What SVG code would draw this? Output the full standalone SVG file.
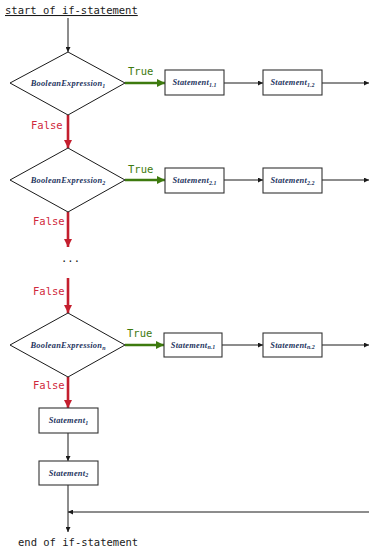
<svg xmlns="http://www.w3.org/2000/svg" width="369" height="548" viewBox="0 0 369 548">
<style>
.mono{font-family:"DejaVu Sans Mono","Liberation Mono",monospace;font-size:10.5px}
.lbl{fill:#1a1a1a}
.f{fill:#d0283c}
.t{fill:#3d7a0e}
.m{font-family:"Liberation Serif","DejaVu Serif",serif;font-style:italic;font-weight:bold;font-size:8.4px;letter-spacing:0.25px;fill:#1e3560}
.sub{font-size:6px;letter-spacing:0}
.box{fill:#fff;stroke:#333;stroke-width:1.1}
.dia{fill:#fff;stroke:#1a1a1a;stroke-width:1}
.k{stroke:#1a1a1a;stroke-width:1;fill:none}
.r{stroke:#c41e2e;stroke-width:2.6;fill:none}
.g{stroke:#3d7a0e;stroke-width:2.6;fill:none}
</style>
<defs>
<marker id="ak" viewBox="0 0 10 10" refX="10" refY="5" markerWidth="6" markerHeight="5" markerUnits="userSpaceOnUse" orient="auto"><path d="M0,0 L10,5 L0,10 z" fill="#1a1a1a"/></marker>
<marker id="ar" viewBox="0 0 10 10" refX="10" refY="5" markerWidth="9" markerHeight="8" markerUnits="userSpaceOnUse" orient="auto"><path d="M0,0 L10,5 L0,10 z" fill="#c41e2e"/></marker>
<marker id="ag" viewBox="0 0 10 10" refX="10" refY="5" markerWidth="9" markerHeight="8" markerUnits="userSpaceOnUse" orient="auto"><path d="M0,0 L10,5 L0,10 z" fill="#3d7a0e"/></marker>
</defs>
<rect width="369" height="548" fill="#fff"/>

<g id="start">
<text class="mono lbl" x="5" y="14" text-decoration="underline">start of if-statement</text>
</g>

<g id="connectors">
<line class="k" x1="68" y1="18" x2="68" y2="52" marker-end="url(#ak)"/>
<line class="g" x1="125" y1="83" x2="165" y2="83" marker-end="url(#ag)"/>
<line class="k" x1="224" y1="83" x2="263" y2="83" marker-end="url(#ak)"/>
<line class="k" x1="322" y1="83" x2="369" y2="83" marker-end="url(#ak)"/>
<line class="r" x1="68" y1="115" x2="68" y2="148" marker-end="url(#ar)"/>
<line class="g" x1="125" y1="180" x2="165" y2="180" marker-end="url(#ag)"/>
<line class="k" x1="224" y1="180" x2="263" y2="180" marker-end="url(#ak)"/>
<line class="k" x1="322" y1="180" x2="369" y2="180" marker-end="url(#ak)"/>
<line class="r" x1="68" y1="212" x2="68" y2="247" marker-end="url(#ar)"/>
<line class="r" x1="68" y1="278" x2="68" y2="313" marker-end="url(#ar)"/>
<line class="g" x1="125" y1="345" x2="164" y2="345" marker-end="url(#ag)"/>
<line class="k" x1="222" y1="345" x2="263" y2="345" marker-end="url(#ak)"/>
<line class="k" x1="322" y1="345" x2="369" y2="345" marker-end="url(#ak)"/>
<line class="r" x1="68" y1="377" x2="68" y2="408" marker-end="url(#ar)"/>
<line class="k" x1="68" y1="433" x2="68" y2="461" marker-end="url(#ak)"/>
<line class="k" x1="68" y1="485" x2="68" y2="532" marker-end="url(#ak)"/>
<line class="k" x1="369" y1="512" x2="68" y2="512" marker-end="url(#ak)"/>
<text class="mono t" x="128" y="75">True</text>
<text class="mono f" x="31" y="129">False</text>
<text class="mono t" x="128" y="173">True</text>
<text class="mono f" x="33" y="225">False</text>
<text class="mono lbl" x="61" y="262">...</text>
<text class="mono f" x="33" y="295">False</text>
<text class="mono t" x="127" y="337">True</text>
<text class="mono f" x="33" y="389">False</text>
</g>

<g id="cond1">
<polygon class="dia" points="68,52 125,83 68,115 10,83"/>
<text class="m" x="68" y="86" text-anchor="middle">BooleanExpression<tspan class="sub" dy="1.5">1</tspan></text>
</g>
<g id="s11"><rect class="box" x="165" y="70" width="59" height="25"/>
<text class="m" x="194.5" y="85" text-anchor="middle">Statement<tspan class="sub" dy="1.5">1.1</tspan></text></g>
<g id="s12"><rect class="box" x="263" y="70" width="59" height="25"/>
<text class="m" x="292.5" y="85" text-anchor="middle">Statement<tspan class="sub" dy="1.5">1.2</tspan></text></g>

<g id="cond2">
<polygon class="dia" points="68,148 125,180 68,212 10,180"/>
<text class="m" x="68" y="183" text-anchor="middle">BooleanExpression<tspan class="sub" dy="1.5">2</tspan></text>
</g>
<g id="s21"><rect class="box" x="165" y="168" width="59" height="25"/>
<text class="m" x="194.5" y="183" text-anchor="middle">Statement<tspan class="sub" dy="1.5">2.1</tspan></text></g>
<g id="s22"><rect class="box" x="263" y="168" width="59" height="25"/>
<text class="m" x="292.5" y="183" text-anchor="middle">Statement<tspan class="sub" dy="1.5">2.2</tspan></text></g>

<g id="condn">
<polygon class="dia" points="68,313 125,345 68,377 10,345"/>
<text class="m" x="68" y="348" text-anchor="middle">BooleanExpression<tspan class="sub" dy="1.5">n</tspan></text>
</g>
<g id="sn1"><rect class="box" x="164" y="333" width="58" height="24"/>
<text class="m" x="193" y="347.5" text-anchor="middle">Statement<tspan class="sub" dy="1.5">n.1</tspan></text></g>
<g id="sn2"><rect class="box" x="263" y="333" width="59" height="24"/>
<text class="m" x="292.5" y="347.5" text-anchor="middle">Statement<tspan class="sub" dy="1.5">n.2</tspan></text></g>

<g id="else1"><rect class="box" x="39" y="408" width="59" height="25"/>
<text class="m" x="68.5" y="423" text-anchor="middle">Statement<tspan class="sub" dy="1.5">1</tspan></text></g>
<g id="else2"><rect class="box" x="39" y="461" width="59" height="24"/>
<text class="m" x="68.5" y="475.5" text-anchor="middle">Statement<tspan class="sub" dy="1.5">2</tspan></text></g>

<g id="end">
<text class="mono lbl" x="18" y="546">end of if-statement</text>
</g>
</svg>
